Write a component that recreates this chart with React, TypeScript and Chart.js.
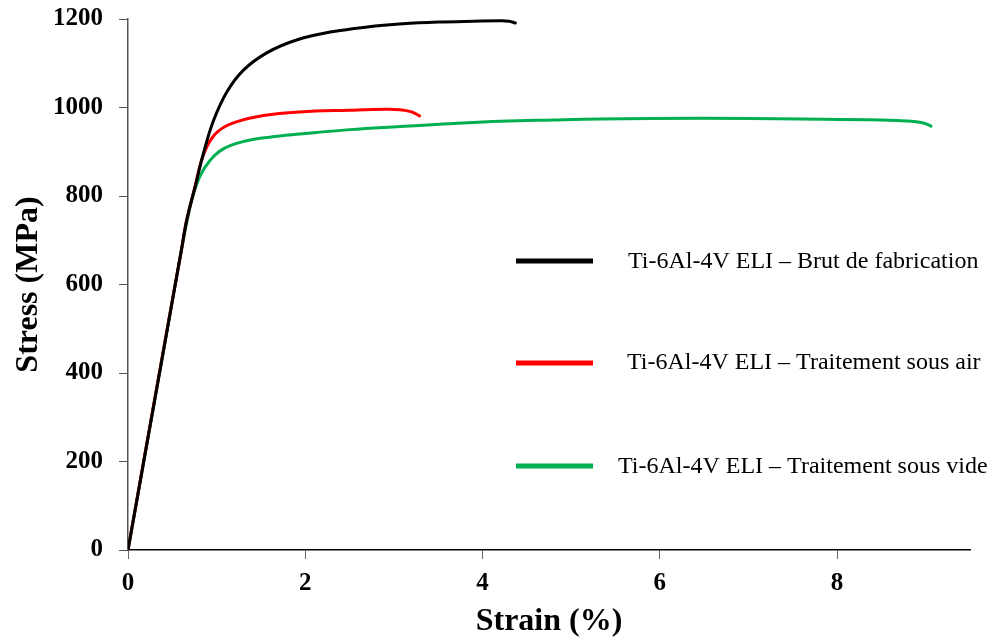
import React, { useEffect, useRef } from "react";
import { Chart, registerables } from "chart.js";

Chart.register(...registerables);

// Series: Ti-6Al-4V ELI – Brut de fabrication (black)
const brutStrain = [0, 0.35, 0.6, 0.663, 0.757, 0.851, 0.964, 1.115, 1.3, 1.57, 1.91, 2.3, 2.7, 3.1, 3.5, 3.9, 4.2, 4.3, 4.37];
const brutStress = [0, 394, 675, 746, 821, 896, 970, 1035, 1084, 1124, 1153, 1171, 1182, 1189, 1193, 1195, 1196, 1195, 1191];

// Series: Ti-6Al-4V ELI – Traitement sous air (red)
const airStrain = [0, 0.35, 0.6, 0.663, 0.757, 0.83, 0.927, 1.04, 1.23, 1.53, 1.94, 2.5, 2.9, 3.07, 3.2, 3.29];
const airStress = [0, 396, 675, 746, 821, 881, 925, 950, 968, 982, 990, 994, 996, 995, 990, 981];

// Series: Ti-6Al-4V ELI – Traitement sous vide (green)
const videStrain = [0, 0.35, 0.6, 0.663, 0.72, 0.81, 0.927, 1.08, 1.3, 1.6, 1.94, 2.5, 3.07, 3.6, 4.2, 4.8, 5.33, 6.46, 7.59, 8.5, 8.84, 8.95, 9.02, 9.06];
const videStress = [0, 394, 675, 740, 791, 844, 881, 907, 923, 933, 940, 950, 957, 963, 969, 972, 974, 975.5, 974, 972, 969, 966, 962, 958];

const seriesLabels = [
  "Ti-6Al-4V ELI – Brut de fabrication",
  "Ti-6Al-4V ELI – Traitement sous air",
  "Ti-6Al-4V ELI – Traitement sous vide",
];
const seriesColors = ["#000000", "#ff0000", "#00b050"];

const xTitle = "Strain (%)";
const yTitle = "Stress (MPa)";

const toPoints = (xs: number[], ys: number[]) => xs.map((x, i) => ({ x, y: ys[i] }));

const FONT = "'Liberation Serif', 'Times New Roman', serif";

const legendPlugin = {
  id: "customLegend",
  afterDraw(chart: any) {
    const ctx = chart.ctx;
    const items = [
      { lineY: 261, textX: 628, textY: 268 },
      { lineY: 363, textX: 627, textY: 369 },
      { lineY: 466, textX: 618, textY: 473 },
    ];
    ctx.save();
    items.forEach((it, i) => {
      ctx.strokeStyle = seriesColors[i];
      ctx.lineWidth = 5;
      ctx.lineCap = "butt";
      ctx.beginPath();
      ctx.moveTo(516, it.lineY);
      ctx.lineTo(593, it.lineY);
      ctx.stroke();
      ctx.fillStyle = "#000";
      ctx.font = `24px ${FONT}`;
      ctx.textAlign = "left";
      ctx.textBaseline = "alphabetic";
      ctx.fillText(seriesLabels[i], it.textX, it.textY);
    });
    ctx.restore();
  },
};

export default function App() {
  const ref = useRef<HTMLCanvasElement | null>(null);
  useEffect(() => {
    document.body.style.margin = "0";
    const canvas = ref.current!;
    const chart = new Chart(canvas, {
      type: "line",
      data: {
        datasets: [
          { label: seriesLabels[0], data: toPoints(brutStrain, brutStress), borderColor: seriesColors[0] },
          { label: seriesLabels[1], data: toPoints(airStrain, airStress), borderColor: seriesColors[1] },
          { label: seriesLabels[2], data: toPoints(videStrain, videStress), borderColor: seriesColors[2] },
        ].map((d) => ({
          ...d,
          borderWidth: 3,
          pointRadius: 0,
          fill: false,
          tension: 0.4,
          borderCapStyle: "round" as const,
          borderJoinStyle: "round" as const,
        })),
      },
      options: {
        responsive: false,
        maintainAspectRatio: false,
        devicePixelRatio: 1,
        animation: false,
        layout: { padding: { left: 0, top: 19, right: 22, bottom: 0 } },
        plugins: { legend: { display: false }, tooltip: { enabled: false } },
        scales: {
          x: {
            type: "linear",
            min: 0,
            max: 9.5,
            ticks: {
              stepSize: 2,
              includeBounds: false,
              color: "#000",
              font: { family: FONT, size: 25, weight: "bold" },
              padding: 10,
              maxRotation: 0,
              callback: (v: any) => String(v),
            },
            grid: { drawOnChartArea: false, drawTicks: true, tickLength: 9, color: "#666" },
            border: { display: true, color: "#000", width: 1.5 },
            title: {
              display: true,
              text: xTitle,
              color: "#000",
              font: { family: FONT, size: 32, weight: "bold" },
              padding: 0,
            },
            afterFit: (s: any) => {
              s.height = 91;
              s.paddingLeft = 0;
              s.paddingRight = 0;
            },
          },
          y: {
            type: "linear",
            min: 0,
            max: 1200,
            ticks: {
              stepSize: 200,
              color: "#000",
              font: { family: FONT, size: 25, weight: "bold" },
              padding: 16,
              callback: (v: any) => String(v),
            },
            grid: { drawOnChartArea: false, drawTicks: true, tickLength: 9, color: "#555" },
            border: { display: true, color: "#555", width: 1.5 },
            title: {
              display: true,
              text: yTitle,
              color: "#000",
              font: { family: FONT, size: 32, weight: "bold" },
              padding: { top: 10, bottom: 0 },
            },
            afterFit: (s: any) => {
              s.width = 128;
              s.paddingTop = 0;
              s.paddingBottom = 0;
            },
          },
        },
      },
      plugins: [legendPlugin],
    });
    return () => chart.destroy();
  }, []);
  return (
    <div style={{ width: 992, height: 641 }}>
      <canvas ref={ref} width={992} height={641} style={{ display: "block" }} />
    </div>
  );
}
